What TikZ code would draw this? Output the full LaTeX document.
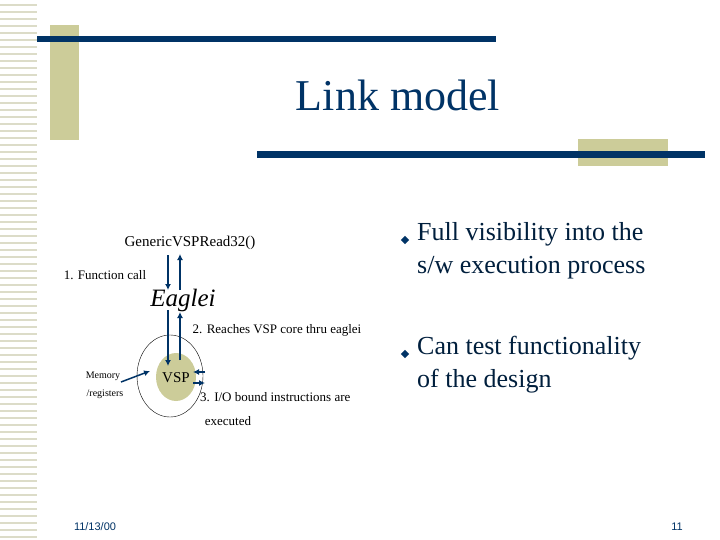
\documentclass[tikz,border=0pt]{standalone}
\usepackage{fontspec}
\setmainfont{Liberation Serif}
\setsansfont{Liberation Sans}
\usetikzlibrary{arrows.meta}
\definecolor{navy}{RGB}{0,51,102}
\definecolor{tan}{RGB}{204,204,153}
\definecolor{stripe}{RGB}{220,220,200}
\begin{document}
\begin{tikzpicture}[x=1pt,y=-1pt,
  arr/.style={navy,line width=2pt,-{Latex[length=6pt,width=6pt]}},
  lbl/.style={font=\fontsize{13}{14}\selectfont,inner sep=0pt},
  bul/.style={font=\fontsize{26}{33}\selectfont,align=left,anchor=north west,inner sep=0pt,text=navy!60!black}]
\useasboundingbox (0,0) rectangle (720,540);
\fill[white] (0,0) rectangle (720,540);
\foreach \y in {4,11,...,540} \fill[stripe] (0,\y) rectangle (37,\y+2);
\fill[tan] (50,25) rectangle (79,140);
\fill[navy] (37,36) rectangle (496,42);
\fill[tan] (578,139) rectangle (668,166);
\fill[navy] (257,151) rectangle (705,158);
\node[text=navy,font=\fontsize{44}{46}\selectfont] (title) at (398,95) {Link model};
% diagram
\node[lbl,font=\fontsize{15}{16}\selectfont] (gen) at (190,243) {GenericVSPRead32()};
\node[lbl,font=\fontsize{25}{26}\selectfont\itshape] (eag) at (183,300) {Eaglei};
\node[lbl] (fc) at (105,275) {1. Function call};
\draw[black,line width=0.4pt] (170,376) ellipse (33 and 41);
\fill[tan] (176,377) ellipse (20 and 24);
\node[lbl,font=\fontsize{15}{16}\selectfont] (vsp) at (176,378) {VSP};
\node[lbl] (r2) at (277,330) {2. Reaches VSP core thru eaglei};
\node[lbl,anchor=west] (r3) at (200,397) {3. I/O bound instructions are};
\node[lbl] (ex) at (228,421) {executed};
\node[lbl,font=\fontsize{10}{11}\selectfont] (mem) at (103,376) {Memory};
\node[lbl,font=\fontsize{10}{11}\selectfont] (reg) at (105,394) {/registers};
\coordinate (a1) at (168,255); \coordinate (a2) at (168,290);
\coordinate (b1) at (180,290); \coordinate (b2) at (180,254);
\coordinate (c1) at (168,310); \coordinate (c2) at (168,366);
\coordinate (d1) at (180,360); \coordinate (d2) at (180,312);
\draw[arr] (a1) -- (a2);
\draw[arr] (b1) -- (b2);
\draw[arr] (c1) -- (c2);
\draw[arr] (d1) -- (d2);
\coordinate (e1) at (205,372); \coordinate (e2) at (193,372);
\coordinate (f1) at (193,383); \coordinate (f2) at (205,383);
\draw[arr] (e1) -- (e2);
\draw[arr] (f1) -- (f2);
\coordinate (m1) at (121,382); \coordinate (m2) at (150,371);
\draw[arr,line width=1.5pt] (m1) -- (m2);
% bullets
\node[fill=navy,rotate=45,inner sep=3pt] (d1b) at (405,240) {};
\node[bul] (t1) at (417,222) {Full visibility into the\\s/w execution process};
\node[fill=navy,rotate=45,inner sep=3pt] (d2b) at (405,354) {};
\node[bul] (t2) at (417,336) {Can test functionality\\of the design};
\node[font=\sffamily\fontsize{11}{12}\selectfont,text=navy] (date) at (95,527) {11/13/00};
\node[font=\sffamily\fontsize{11}{12}\selectfont,text=navy] (pg) at (677,527) {11};
\end{tikzpicture}
\end{document}
